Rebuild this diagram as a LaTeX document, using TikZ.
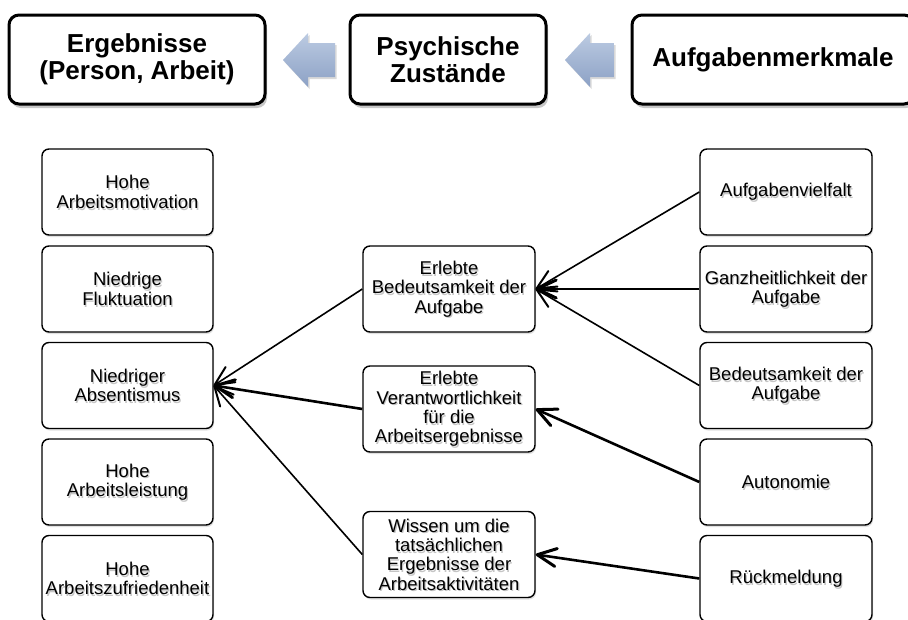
\documentclass[tikz,border=0pt]{standalone}
\usepackage{fontspec}
\setmainfont{Liberation Sans}
\usetikzlibrary{arrows.meta,shadows}

\definecolor{arrowtop}{HTML}{BCCBE2}
\definecolor{arrowbot}{HTML}{8CA1C5}

\tikzset{
  head/.style={draw=black, line width=3pt, rounded corners=10pt, fill=white,
    minimum height=89pt, inner sep=0pt, align=center,
    font=\fontsize{26}{27.5}\selectfont\bfseries,
    drop shadow={shadow xshift=2pt, shadow yshift=-4pt, fill=black, opacity=0.22}},
  item/.style={draw=black, line width=1.4pt, rounded corners=7pt, fill=white,
    minimum width=171pt, minimum height=86pt, inner sep=0pt, align=center,
    font=\fontsize{18.5}{19.3}\selectfont,
    drop shadow={shadow xshift=1pt, shadow yshift=-2pt, fill=black, opacity=0.12},
    path picture={\node[text=black!45, opacity=0.5, align=center, inner sep=0pt,
      font=\fontsize{18.5}{19.3}\selectfont]
      at ([xshift=1.2pt,yshift=-1.8pt]path picture bounding box.center) {#1};}},
  link/.style={line width=1.6pt,
    -{Straight Barb[length=19pt,width=18pt,line width=2pt,round]}},
  linkbold/.style={line width=2.6pt,
    -{Straight Barb[length=19pt,width=18pt,line width=3pt,round]}},
  blockarrow/.style={top color=arrowtop, bottom color=arrowbot, draw=none,
    drop shadow={shadow xshift=1.5pt, shadow yshift=-2pt, fill=black, opacity=0.15}}
}

\begin{document}
\begin{tikzpicture}[x=1pt, y=-1pt]
\useasboundingbox (0,0) rectangle (908,619);
\clip (0,0) rectangle (908,619);

% header row
\node[head, minimum width=256pt] (erg) at (137,59.5) {Ergebnisse\\(Person, Arbeit)};
\node[head, minimum width=196pt] (psy) at (448,59.5) {Psychische\\Zustände};
\node[head, minimum width=282pt] (auf) at (773,59.5) {Aufgabenmerkmale};

% block arrows between the headers
\path[blockarrow] (283,60) -- (308,33) -- (308,43) -- (335,43) -- (335,77)
  -- (308,77) -- (308,87) -- cycle;
\path[blockarrow] (565,60) -- (590,33) -- (590,43) -- (614,43) -- (614,77)
  -- (590,77) -- (590,87) -- cycle;

% outcomes
\node[item={Hohe\\Arbeitsmotivation}] (l1) at (127.5,192) {Hohe\\Arbeitsmotivation};
\node[item={Niedrige\\Fluktuation}] (l2) at (127.5,289) {Niedrige\\Fluktuation};
\node[item={Niedriger\\Absentismus}] (l3) at (127.5,385.5) {Niedriger\\Absentismus};
\node[item={Hohe\\Arbeitsleistung}] (l4) at (127.5,482) {Hohe\\Arbeitsleistung};
\node[item={Hohe\\Arbeitszufriedenheit}] (l5) at (127.5,578.5) {Hohe\\Arbeitszufriedenheit};

% psychological states
\node[item={Erlebte\\Bedeutsamkeit der\\Aufgabe}, minimum width=172pt] (m1) at (449,289)
  {Erlebte\\Bedeutsamkeit der\\Aufgabe};
\node[item={Erlebte\\Verantwortlichkeit\\für die\\Arbeitsergebnisse}, minimum width=172pt] (m2) at (449,409)
  {Erlebte\\Verantwortlichkeit\\für die\\Arbeitsergebnisse};
\node[item={Wissen um die\\tatsächlichen\\Ergebnisse der\\Arbeitsaktivitäten}, minimum width=172pt] (m3) at (449,554.5)
  {Wissen um die\\tatsächlichen\\Ergebnisse der\\Arbeitsaktivitäten};

% task characteristics
\node[item={Aufgabenvielfalt}, minimum width=172pt] (r1) at (786,192) {Aufgabenvielfalt};
\node[item={Ganzheitlichkeit der\\Aufgabe}, minimum width=172pt] (r2) at (786,289) {Ganzheitlichkeit der\\Aufgabe};
\node[item={Bedeutsamkeit der\\Aufgabe}, minimum width=172pt] (r3) at (786,385.5) {Bedeutsamkeit der\\Aufgabe};
\node[item={Autonomie}, minimum width=172pt] (r4) at (786,482) {Autonomie};
\node[item={Rückmeldung}, minimum width=172pt] (r5) at (786,578.5) {Rückmeldung};

% connectors
\draw[link] (r1.west) -- (m1.east);
\draw[linkbold] (r2.west) -- (m1.east);
\draw[link] (r3.west) -- (m1.east);
\draw[linkbold] (r4.west) -- (m2.east);
\draw[linkbold] (r5.west) -- (m3.east);
\draw[link] (m1.west) -- (l3.east);
\draw[linkbold] (m2.west) -- (l3.east);
\draw[link] (m3.west) -- (l3.east);
\end{tikzpicture}
\end{document}
